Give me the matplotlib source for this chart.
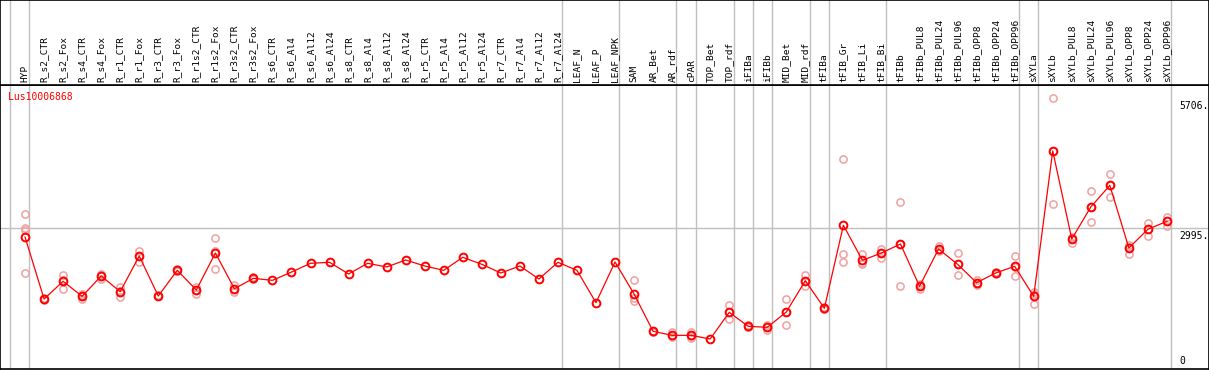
import matplotlib
matplotlib.use('Agg')
import matplotlib.pyplot as plt

# column labels
samples = ["HYP", "R_s2_CTR", "R_s2_Fox", "R_s4_CTR", "R_s4_Fox", "R_r1_CTR", "R_r1_Fox",
           "R_r3_CTR", "R_r3_Fox", "R_r1s2_CTR", "R_r1s2_Fox", "R_r3s2_CTR", "R_r3s2_Fox",
           "R_s6_CTR", "R_s6_Al4", "R_s6_Al12", "R_s6_Al24", "R_s8_CTR", "R_s8_Al4",
           "R_s8_Al12", "R_s8_Al24", "R_r5_CTR", "R_r5_Al4", "R_r5_Al12", "R_r5_Al24",
           "R_r7_CTR", "R_r7_Al4", "R_r7_Al12", "R_r7_Al24", "LEAF_N", "LEAF_P", "LEAF_NPK",
           "SAM", "AR_Bet", "AR_rdf", "cPAR", "TOP_Bet", "TOP_rdf", "iFIBa", "iFIBb",
           "MID_Bet", "MID_rdf", "tFIBa", "tFIB_Gr", "tFIB_Li", "tFIB_Bi", "tFIBb",
           "tFIBb_PUL8", "tFIBb_PUL24", "tFIBb_PUL96", "tFIBb_OPP8", "tFIBb_OPP24",
           "tFIBb_OPP96", "sXYLa", "sXYLb", "sXYLb_PUL8", "sXYLb_PUL24", "sXYLb_PUL96",
           "sXYLb_OPP8", "sXYLb_OPP24", "sXYLb_OPP96"]

# mean expression per sample
means = [2801, 1502, 1873, 1558, 1984, 1656, 2403, 1565, 2103, 1691, 2466, 1718, 1935,
         1893, 2067, 2250, 2271, 2026, 2250, 2173, 2319, 2194, 2103, 2376, 2229, 2047,
         2194, 1921, 2271, 2103, 1425, 2278,
         1607, 825, 741, 741, 664, 1223, 930, 909, 1230, 1886, 1307, 3046, 2313, 2466,
         2655, 1768, 2550, 2229, 1844, 2047, 2187, 1558, 4603, 2759, 3430, 3884, 2571,
         2963, 3130]

# individual replicates
replicates = [
    [3277, 2990, 2948, 2040], [1520, 1495, 1490], [2005, 1718, 1890], [1600, 1495, 1575],
    [2026, 1914, 2000], [1747, 1551, 1670], [2515, 2284, 2410], [1580, 1555, 1560],
    [2125, 2090, 2095], [1747, 1614, 1700], [2774, 2124, 2500], [1795, 1648, 1710],
    [1970, 1920, 1915],
    [], [], [], [], [], [], [], [], [], [], [], [], [], [], [], [], [], [], [],
    [1893, 1516, 1460], [840, 815, 820], [804, 720, 700], [811, 685, 730], [],
    [1376, 1076, 1220], [950, 915, 925], [958, 853, 915], [1496, 951, 1240],
    [2005, 1781, 1870], [1330, 1290, 1300], [4429, 2445, 2284], [2445, 2250, 2245],
    [2556, 2368, 2470], [3528, 1775, 2660], [1820, 1720, 1765], [2619, 2520, 2510],
    [2460, 1999, 2230], [1900, 1800, 1830], [2070, 2040, 2030], [2403, 1984, 2180],
    [1656, 1391, 1610], [5706, 3486, 4610], [2795, 2680, 2790], [3765, 3109, 3420],
    [4115, 3633, 3900], [2640, 2450, 2600], [3095, 2829, 2960], [3227, 3032, 3130],
]

# separator lines come after these column indices
group_ends = [-1, 0, 28, 31, 34, 35, 37, 38, 39, 41, 42, 45, 52, 53, 60]
gene = "Lus10006868"
y_labels = [5706, 2995]

W, H = 1209, 370
fig = plt.figure(figsize=(W / 100, H / 100), dpi=100)

x0 = (1 - 26) / 19
x1 = (1208 - 26) / 19
ax = fig.add_axes([0, 1 / H, 1, 284 / H])
hdr = fig.add_axes([0, 285 / H, 1, 85 / H])

for a in (ax, hdr):
    a.set_xlim(x0, x1)
    a.set_xticks([])
    a.set_yticks([])
    for s in a.spines.values():
        s.set_color('black')
        s.set_linewidth(1.2)
    for g in group_ends:
        a.axvline(g + 0.23, color='#c0c0c0', lw=1.0, zorder=1)

hdr.set_ylim(0, 85)
for i, name in enumerate(samples):
    hdr.text(i, 3, name, rotation=90, ha='center', va='bottom',
             fontsize=6.8, family='DejaVu Sans Mono', color='black')

ax.set_ylim((370.7 - 369) / 0.04773, (370.7 - 85) / 0.04773)
ax.axhline(2995, color='#c0c0c0', lw=1.0, zorder=1)

for i, reps in enumerate(replicates):
    if reps:
        ax.plot([i] * len(reps), reps, linestyle='none', marker='o', markersize=5.2,
                markerfacecolor='none', markeredgecolor='#f0a0a0', markeredgewidth=1.1,
                zorder=2)

xs = list(range(len(samples)))
ax.plot(xs, means, color='red', lw=0.9, zorder=3)
ax.plot(xs, means, linestyle='none', marker='o', markersize=5.6, markerfacecolor='none',
        markeredgecolor='red', markeredgewidth=1.4, zorder=4)

ax.text(0.0065, 0.975, gene, transform=ax.transAxes, color='red', fontsize=7,
        family='DejaVu Sans Mono', ha='left', va='top')

lx = (1178 - 26) / 19
for v in y_labels:
    ax.text(lx, v - 60, f"{v}.", color='black', fontsize=7, family='DejaVu Sans Mono',
            ha='left', va='top')
ax.text(lx, (370.7 - 366) / 0.04773, "0", color='black', fontsize=7,
        family='DejaVu Sans Mono', ha='left', va='bottom')

fig.savefig('out.png', dpi=100)
